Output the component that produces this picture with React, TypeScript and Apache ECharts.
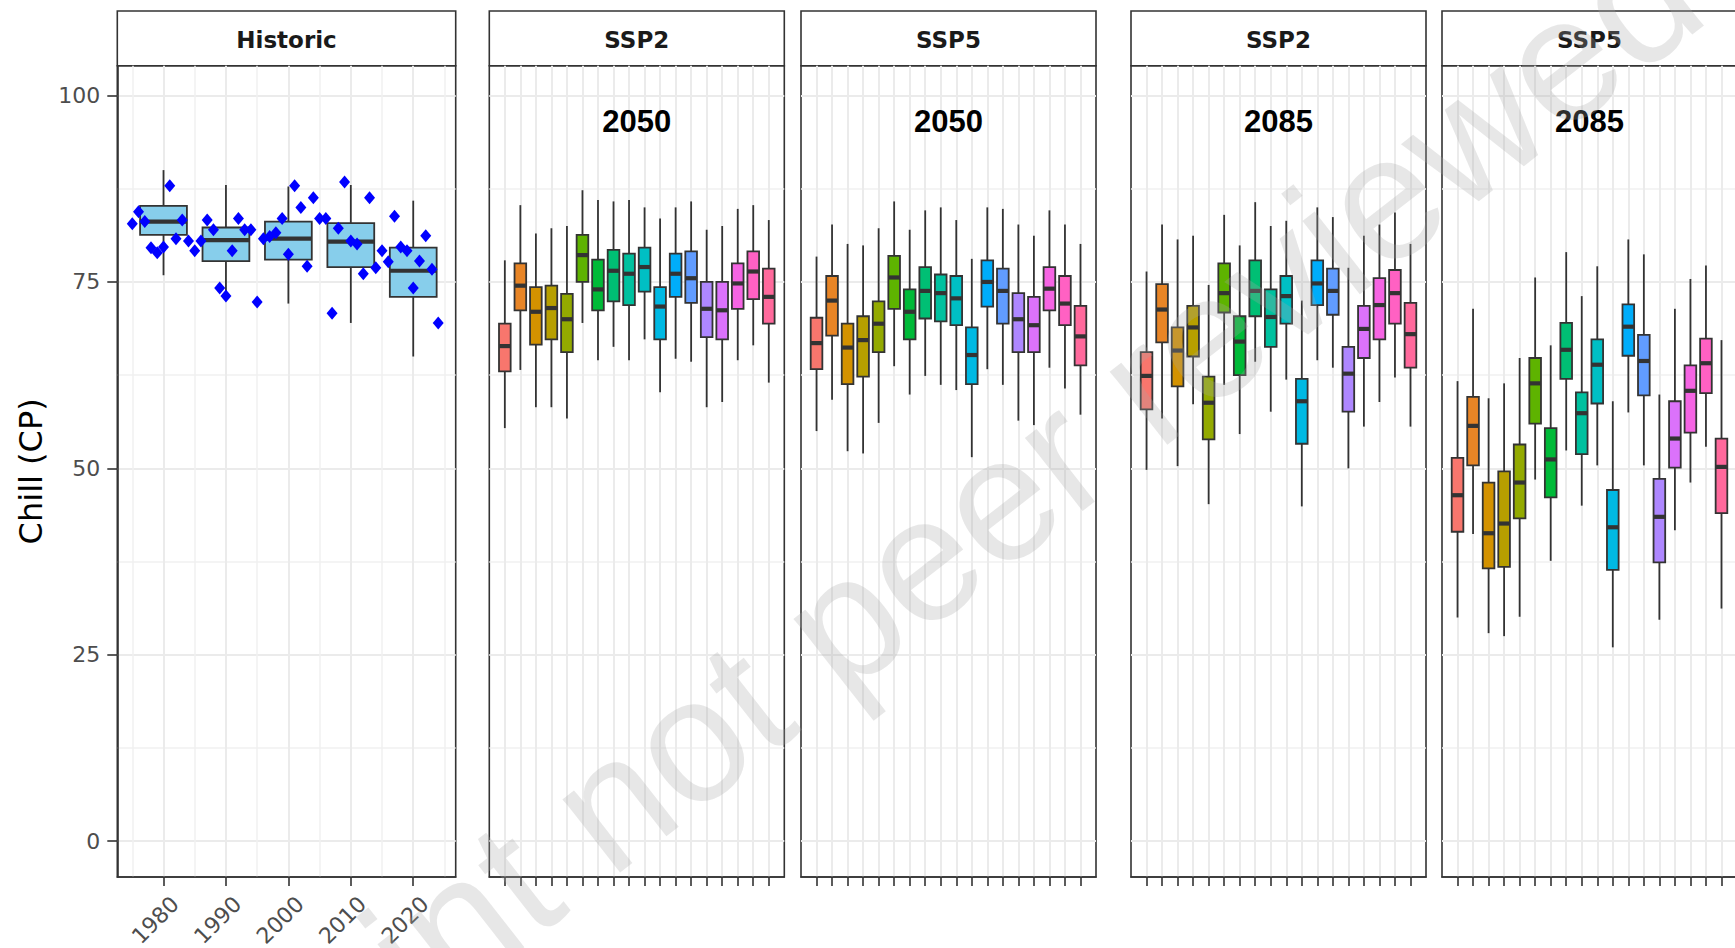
import React, { useEffect, useRef } from "react";
import * as echarts from "echarts";

// ---- scales -------------------------------------------------------------
const Y_MIN = -4.8;
const Y_MAX = 104.0;
const Y_TICKS = [0, 25, 50, 75, 100];
const Y_MINOR = [12.5, 37.5, 62.5, 87.5];

const HIST_X_MIN = 1972.6;
const HIST_X_MAX = 2026.8;
const DECADES = [1980, 1990, 2000, 2010, 2020];
const HALF_DECADES = [1975, 1985, 1995, 2005, 2015, 2025];

// ---- historic record ----------------------------------------------------
// decade boxes: [lower whisker, Q1, median, Q3, upper whisker]
const HIST_BOXES = [
  [75.9, 81.3, 83.1, 85.2, 90.0],
  [73.3, 77.8, 80.6, 82.3, 88.0],
  [72.1, 78.0, 80.8, 83.1, 87.8],
  [69.5, 77.0, 80.4, 82.9, 88.0],
  [65.0, 73.0, 76.5, 79.6, 85.9],
];

const HIST_YEARS = [
  1975, 1976, 1977, 1978, 1979, 1980, 1981, 1982, 1983, 1984,
  1985, 1986, 1987, 1988, 1989, 1990, 1991, 1992, 1993, 1994,
  1995, 1996, 1997, 1998, 1999, 2000, 2001, 2002, 2003, 2004,
  2005, 2006, 2007, 2008, 2009, 2010, 2011, 2012, 2013, 2014,
  2015, 2016, 2017, 2018, 2019, 2020, 2021, 2022, 2023, 2024,
];
const HIST_CHILL = [
  82.8, 84.4, 83.1, 79.6, 78.9, 79.7, 87.9, 80.8, 83.3, 80.5,
  79.2, 80.5, 83.3, 82.0, 74.2, 73.1, 79.2, 83.5, 82.0, 82.0,
  72.3, 80.8, 81.1, 81.6, 83.5, 78.7, 87.9, 85.0, 77.1, 86.3,
  83.5, 83.5, 70.8, 82.2, 88.4, 80.5, 80.1, 76.1, 86.3, 76.9,
  79.2, 77.7, 83.8, 79.7, 79.2, 74.2, 77.8, 81.2, 76.7, 69.5,
];

// ---- projections: 18 models per scenario / horizon ----------------------
const MODELS = [
  "M01", "M02", "M03", "M04", "M05", "M06", "M07", "M08", "M09",
  "M10", "M11", "M12", "M13", "M14", "M15", "M16", "M17", "M18",
];

// [lower whisker, Q1, median, Q3, upper whisker]
const SSP2_2050 = [
  [55.4, 63.0, 66.4, 69.4, 77.9],
  [63.2, 71.2, 74.5, 77.5, 85.3],
  [58.2, 66.6, 71.0, 74.3, 81.5],
  [58.2, 67.3, 71.5, 74.5, 82.2],
  [56.7, 65.6, 70.0, 73.4, 82.5],
  [69.5, 75.0, 78.6, 81.3, 87.3],
  [64.5, 71.2, 74.0, 78.0, 86.0],
  [66.3, 72.4, 76.5, 79.3, 85.8],
  [64.5, 71.9, 76.1, 78.8, 86.0],
  [67.3, 73.7, 77.0, 79.6, 85.0],
  [60.2, 67.3, 71.7, 74.3, 83.5],
  [64.7, 73.0, 76.1, 78.8, 85.0],
  [64.3, 72.2, 75.5, 79.1, 85.8],
  [58.2, 67.6, 71.4, 75.0, 82.0],
  [58.9, 67.3, 71.2, 75.0, 82.5],
  [64.5, 71.4, 74.8, 77.5, 84.8],
  [66.5, 72.7, 76.4, 79.1, 85.3],
  [61.5, 69.4, 73.0, 76.8, 83.3],
];

const SSP5_2050 = [
  [55.0, 63.3, 66.8, 70.2, 78.4],
  [59.2, 67.8, 72.5, 75.8, 82.7],
  [52.3, 61.3, 66.2, 69.4, 80.1],
  [52.0, 62.3, 67.2, 70.4, 79.9],
  [56.1, 65.6, 69.4, 72.4, 82.2],
  [63.7, 71.4, 75.6, 78.5, 85.8],
  [59.9, 67.3, 71.0, 74.0, 82.0],
  [62.4, 70.1, 73.8, 77.0, 84.6],
  [61.2, 69.7, 73.5, 76.0, 85.0],
  [60.5, 69.2, 72.8, 75.8, 83.3],
  [51.5, 61.3, 65.2, 68.9, 78.1],
  [63.3, 71.7, 75.0, 77.9, 85.0],
  [61.2, 69.4, 73.8, 76.8, 84.8],
  [56.4, 65.6, 70.0, 73.5, 82.7],
  [55.8, 65.6, 69.2, 73.0, 81.2],
  [63.5, 71.2, 74.1, 77.0, 84.6],
  [60.7, 69.2, 72.1, 75.8, 82.7],
  [57.2, 63.8, 67.7, 71.8, 80.1],
];

const SSP2_2085 = [
  [49.8, 57.9, 62.4, 65.6, 76.4],
  [56.7, 66.9, 71.3, 74.7, 82.7],
  [50.3, 61.0, 65.8, 68.9, 80.7],
  [58.6, 65.0, 68.9, 71.8, 81.2],
  [45.2, 53.9, 58.8, 62.3, 74.6],
  [61.2, 70.9, 73.5, 77.5, 84.0],
  [54.6, 62.5, 67.0, 70.4, 79.9],
  [64.3, 70.4, 73.8, 77.9, 85.7],
  [57.6, 66.3, 70.3, 74.0, 82.5],
  [61.9, 69.4, 73.1, 75.8, 83.2],
  [44.9, 53.3, 59.0, 62.0, 72.5],
  [64.5, 71.9, 74.8, 77.9, 85.0],
  [63.5, 70.6, 73.8, 76.8, 83.7],
  [50.0, 57.6, 62.7, 66.3, 76.9],
  [55.6, 64.8, 68.7, 71.8, 81.2],
  [58.9, 67.3, 71.9, 75.5, 82.7],
  [62.2, 69.4, 73.5, 76.6, 84.3],
  [55.6, 63.5, 68.0, 72.2, 80.1],
];

const SSP5_2085 = [
  [30.0, 41.5, 46.4, 51.4, 61.7],
  [41.2, 50.4, 55.7, 59.6, 71.4],
  [27.9, 36.6, 41.3, 48.1, 59.4],
  [27.5, 36.8, 42.6, 49.6, 61.4],
  [30.1, 43.3, 48.1, 53.2, 64.8],
  [48.5, 56.0, 61.4, 64.8, 75.6],
  [37.6, 46.1, 51.2, 55.4, 66.5],
  [52.4, 62.0, 65.9, 69.5, 79.0],
  [45.0, 51.9, 57.4, 60.2, 73.1],
  [50.4, 58.7, 63.9, 67.3, 77.1],
  [26.0, 36.4, 42.1, 47.1, 59.0],
  [57.5, 65.1, 69.0, 72.0, 80.7],
  [50.4, 59.8, 64.4, 67.9, 78.7],
  [29.7, 37.4, 43.5, 48.6, 59.9],
  [41.7, 50.1, 54.0, 59.0, 71.4],
  [48.1, 54.8, 60.4, 63.8, 75.4],
  [52.9, 60.1, 64.1, 67.4, 77.2],
  [31.2, 44.0, 50.2, 54.0, 67.2],
];

const SCENARIOS = ["SSP2", "SSP5", "SSP2", "SSP5"];
const HORIZONS = ["2050", "2050", "2085", "2085"];
const PROJECTIONS = [SSP2_2050, SSP5_2050, SSP2_2085, SSP5_2085];
const HORIZON_LABEL_Y = 96.5;

// ---- layout (px) ---------------------------------------------------------
const STRIP_TOP = 11;
const PANEL_TOP = 65.7;
const PANEL_BOTTOM = 877;
const HIST_LEFT = 117.3;
const HIST_WIDTH = 338.4;
const PROJ_LEFTS = [489.3, 801, 1131, 1442];
const PROJ_WIDTH = 295;

// ---- styling -------------------------------------------------------------
const INK = "#333333";
const GRID_MAJOR = "#EBEBEB";
const GRID_MINOR = "#F0F0F0";
const AXIS_TEXT = "#4D4D4D";
const SANS = "DejaVu Sans";

// ggplot-style hue palette (HCL, c = 100, l = 65)
function hclHex(h: number, c: number, l: number): string {
  const WHITE_Y = 100.0;
  const WHITE_U = 0.1978398;
  const WHITE_V = 0.4683363;
  const rad = (h * Math.PI) / 180;
  const U = c * Math.cos(rad);
  const V = c * Math.sin(rad);
  const Y = WHITE_Y * (l > 7.999592 ? Math.pow((l + 16) / 116, 3) : l / 903.3);
  const t = 13 * l;
  const u = U / t + WHITE_U;
  const v = V / t + WHITE_V;
  const X = (9.0 * Y * u) / (4 * v);
  const Z = -X / 3 - 5 * Y + (3 * Y) / v;
  const gam = (x: number) =>
    x > 0.00304 ? 1.055 * Math.pow(x, 1 / 2.4) - 0.055 : 12.92 * x;
  const rgb = [
    (3.240479 * X - 1.53715 * Y - 0.498535 * Z) / WHITE_Y,
    (-0.969256 * X + 1.875992 * Y + 0.041556 * Z) / WHITE_Y,
    (0.055648 * X - 0.204043 * Y + 1.057311 * Z) / WHITE_Y,
  ].map((x) => Math.round(Math.min(1, Math.max(0, gam(x))) * 255));
  return "#" + rgb.map((n) => n.toString(16).padStart(2, "0")).join("");
}
const PALETTE = MODELS.map((_, i) => hclHex(15 + (360 / MODELS.length) * i, 100, 65));

// category slots: one empty slot on each side of the 18 models
const SLOTS = [" ", ...MODELS, "  "];
const innerSlot = (i: number) => i > 0 && i < SLOTS.length - 1;

function boxRenderer(fillFor: (i: number) => string, span: number) {
  return (params: any, api: any) => {
    const x = api.value(0);
    const low = api.value(1);
    const q1 = api.value(2);
    const med = api.value(3);
    const q3 = api.value(4);
    const high = api.value(5);
    const pMed = api.coord([x, med]);
    const cx = pMed[0];
    const step = Math.abs(api.coord([x + span, med])[0] - cx);
    const hw = step * 0.375;
    const yLow = api.coord([x, low])[1];
    const yQ1 = api.coord([x, q1])[1];
    const yQ3 = api.coord([x, q3])[1];
    const yHigh = api.coord([x, high])[1];
    const seg = (x1: number, y1: number, x2: number, y2: number, w: number) => ({
      type: "line",
      shape: { x1, y1, x2, y2 },
      style: { stroke: INK, lineWidth: w },
    });
    return {
      type: "group",
      children: [
        seg(cx, yHigh, cx, yQ3, 1.8),
        seg(cx, yQ1, cx, yLow, 1.8),
        {
          type: "rect",
          shape: { x: cx - hw, y: yQ3, width: 2 * hw, height: yQ1 - yQ3 },
          style: { fill: fillFor(params.dataIndex), stroke: INK, lineWidth: 1.8 },
        },
        seg(cx - hw, pMed[1], cx + hw, pMed[1], 4.2),
      ],
    };
  };
}

function horizonRenderer(text: string) {
  return (params: any, api: any) => {
    const cs = params.coordSys;
    const y = api.coord([1, api.value(1)])[1];
    return {
      type: "text",
      x: cs.x + cs.width / 2,
      y,
      style: {
        text,
        fontSize: 31,
        fontWeight: "bold",
        fontFamily: "Liberation Sans",
        fill: "#000000",
        align: "center",
        verticalAlign: "middle",
      },
    };
  };
}

function buildOption() {
  const panelHeight = PANEL_BOTTOM - PANEL_TOP;
  const lefts = [HIST_LEFT, ...PROJ_LEFTS];
  const widths = [HIST_WIDTH, ...PROJ_LEFTS.map(() => PROJ_WIDTH)];
  const strips = ["Historic", ...SCENARIOS];

  const grid = lefts.map((left, i) => ({
    left,
    top: PANEL_TOP,
    width: widths[i],
    height: panelHeight,
    show: true,
    backgroundColor: "#FFFFFF",
    borderColor: INK,
    borderWidth: 1.6,
    containLabel: false,
    outerBoundsMode: "none",
  }));

  const tickStyle = { color: INK, width: 1.6 };

  const xAxis: any[] = [
    {
      gridIndex: 0,
      type: "value",
      min: HIST_X_MIN,
      max: HIST_X_MAX,
      axisLine: { show: true, onZero: false, lineStyle: tickStyle },
      axisTick: { show: true, customValues: DECADES, length: 9, lineStyle: tickStyle },
      axisLabel: {
        customValues: DECADES,
        formatter: (v: number) => String(v),
        rotate: 45,
        align: "center",
        verticalAlign: "middle",
        margin: 35,
        padding: [0, 23, 0, 0],
        lineHeight: 18,
        fontSize: 22,
        fontFamily: SANS,
        color: AXIS_TEXT,
      },
      splitLine: { show: true, lineStyle: { color: GRID_MAJOR, width: 2 } },
    },
    {
      gridIndex: 0,
      type: "value",
      position: "bottom",
      min: HIST_X_MIN,
      max: HIST_X_MAX,
      axisLine: { show: false },
      axisTick: { show: false, customValues: HALF_DECADES },
      axisLabel: { show: false, customValues: HALF_DECADES },
      splitLine: { show: true, lineStyle: { color: GRID_MINOR, width: 1.5 } },
    },
    ...PROJ_LEFTS.map((_, k) => ({
      gridIndex: k + 1,
      type: "category",
      data: SLOTS,
      boundaryGap: false,
      axisLine: { show: true, onZero: false, lineStyle: tickStyle },
      axisTick: { show: true, interval: innerSlot, length: 9, lineStyle: tickStyle },
      axisLabel: { show: false },
      splitLine: { show: true, interval: innerSlot, lineStyle: { color: GRID_MAJOR, width: 2 } },
    })),
  ];

  const yAxis: any[] = [];
  lefts.forEach((_, i) => {
    const first = i === 0;
    yAxis.push({
      gridIndex: i,
      type: "value",
      min: Y_MIN,
      max: Y_MAX,
      name: first ? "Chill (CP)" : "",
      nameLocation: "middle",
      nameRotate: 90,
      nameGap: 70,
      nameTextStyle: { fontSize: 32, fontFamily: SANS, color: "#000000" },
      axisLine: { show: first, onZero: false, lineStyle: tickStyle },
      axisTick: { show: first, customValues: Y_TICKS, length: 10, lineStyle: tickStyle },
      axisLabel: {
        show: first,
        customValues: Y_TICKS,
        margin: 17,
        fontSize: 22,
        fontFamily: SANS,
        color: AXIS_TEXT,
      },
      splitLine: { show: true, lineStyle: { color: GRID_MAJOR, width: 2 } },
    });
    yAxis.push({
      gridIndex: i,
      type: "value",
      min: Y_MIN,
      max: Y_MAX,
      axisLine: { show: false },
      axisTick: { show: false, customValues: Y_MINOR },
      axisLabel: { show: false, customValues: Y_MINOR },
      splitLine: { show: true, lineStyle: { color: GRID_MINOR, width: 1.5 } },
    });
  });

  const series: any[] = [
    {
      type: "custom",
      name: "Historic boxes",
      xAxisIndex: 0,
      yAxisIndex: 0,
      renderItem: boxRenderer(() => "#87CEEB", 10),
      data: DECADES.map((d, i) => [d, ...HIST_BOXES[i]]),
      z: 3,
    },
    {
      type: "scatter",
      name: "Historic years",
      xAxisIndex: 0,
      yAxisIndex: 0,
      symbol: "diamond",
      symbolSize: [11, 13],
      itemStyle: { color: "#0000FF", opacity: 1 },
      data: HIST_YEARS.map((y, i) => [y, HIST_CHILL[i]]),
      z: 4,
    },
  ];

  PROJECTIONS.forEach((boxes, k) => {
    series.push({
      type: "custom",
      name: `${SCENARIOS[k]} ${HORIZONS[k]}`,
      xAxisIndex: k + 2,
      yAxisIndex: (k + 1) * 2,
      renderItem: boxRenderer((i) => PALETTE[i], 1),
      data: boxes.map((b, i) => [i + 1, ...b]),
      z: 3,
    });
    series.push({
      type: "custom",
      name: `${HORIZONS[k]} label`,
      xAxisIndex: k + 2,
      yAxisIndex: (k + 1) * 2,
      renderItem: horizonRenderer(HORIZONS[k]),
      data: [[1, HORIZON_LABEL_Y]],
      silent: true,
      z: 5,
    });
  });

  const graphic: any[] = [];
  lefts.forEach((left, i) => {
    graphic.push({
      type: "rect",
      shape: { x: left, y: STRIP_TOP, width: widths[i], height: PANEL_TOP - STRIP_TOP },
      style: { fill: "#FFFFFF", stroke: INK, lineWidth: 1.6 },
      silent: true,
    });
    graphic.push({
      type: "text",
      x: left + widths[i] / 2,
      y: (STRIP_TOP + PANEL_TOP) / 2 + 1.5,
      style: {
        text: strips[i],
        fontSize: 23,
        fontWeight: "bold",
        fontFamily: SANS,
        fill: "#1A1A1A",
        align: "center",
        verticalAlign: "middle",
      },
      silent: true,
    });
  });
  // preprint watermark
  graphic.push({
    type: "text",
    x: 862,
    y: 606,
    rotation: (38 * Math.PI) / 180,
    z: 100,
    silent: true,
    style: {
      text: "Preprint not peer reviewed",
      fontSize: 176,
      fontFamily: "Liberation Sans",
      fill: "rgba(165,165,165,0.27)",
      align: "center",
      verticalAlign: "middle",
    },
  });

  return {
    animation: false,
    backgroundColor: "#FFFFFF",
    grid,
    xAxis,
    yAxis,
    series,
    graphic,
  };
}

export default function App() {
  const ref = useRef<HTMLDivElement>(null);
  useEffect(() => {
    if (!ref.current) return;
    const chart = echarts.init(ref.current, undefined, { renderer: "svg" });
    chart.setOption(buildOption() as any);
    return () => chart.dispose();
  }, []);
  return (
    <div
      ref={ref}
      style={{ position: "absolute", left: 0, top: 0, width: 1735, height: 948 }}
    />
  );
}
